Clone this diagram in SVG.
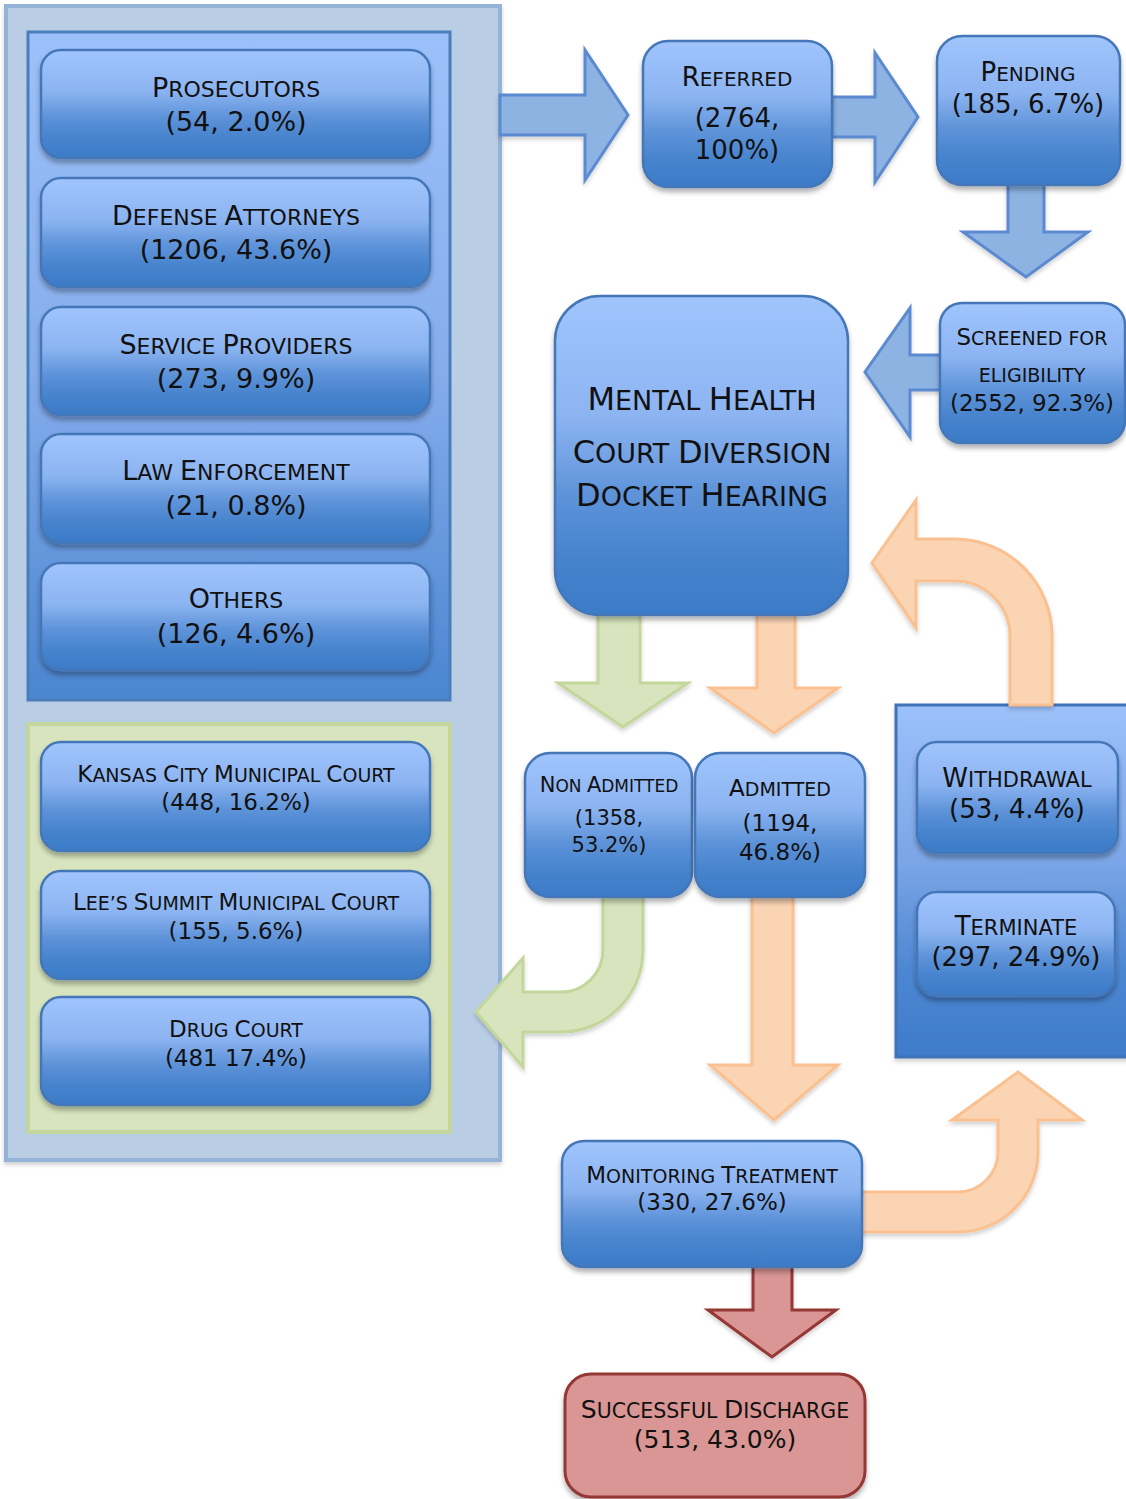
<svg xmlns="http://www.w3.org/2000/svg" width="1126" height="1499" viewBox="0 0 1126 1499">
<style>
.t{font-family:"DejaVu Sans","Liberation Sans",sans-serif;fill:#111;text-anchor:middle}
.f21{font-size:21px}.f23{font-size:23px}.f25{font-size:25px}.f26{font-size:26px}.f27{font-size:27px}.f32{font-size:32px}
.sc{text-transform:uppercase}
.s17{font-size:17px}.s19{font-size:19px}.s20{font-size:20px}.s205{font-size:20.5px}.s21{font-size:21px}.s22{font-size:22px}.s27{font-size:27px}
.box{fill:url(#gBox);stroke:#4477b8;stroke-width:2.5;filter:url(#sh)}
.ab{fill:#8db3e2;stroke:#5b8ad0;stroke-width:3;filter:url(#sh2)}
.ag{fill:#d7e4bd;stroke:#c3d69b;stroke-width:3;filter:url(#sh2)}
.ao{fill:#fbd4b4;stroke:#fac08f;stroke-width:3;filter:url(#sh2)}
.ar{fill:#d99694;stroke:#953735;stroke-width:3;filter:url(#sh2)}
</style>
<defs>
<linearGradient id="gBox" x1="0" y1="0" x2="0" y2="1">
<stop offset="0" stop-color="#a0c5fd"/>
<stop offset="0.38" stop-color="#8cb4f1"/>
<stop offset="0.62" stop-color="#5e93d9"/>
<stop offset="0.82" stop-color="#4683cd"/>
<stop offset="1" stop-color="#3c7bc7"/>
</linearGradient>
<linearGradient id="gCont" x1="0" y1="0" x2="0" y2="1">
<stop offset="0" stop-color="#9cc1fa"/>
<stop offset="0.5" stop-color="#86adec"/>
<stop offset="1" stop-color="#4a85d0"/>
</linearGradient>
<linearGradient id="gCont2" x1="0" y1="0" x2="0" y2="1">
<stop offset="0" stop-color="#9cc1fa"/>
<stop offset="0.45" stop-color="#7aa5e6"/>
<stop offset="0.75" stop-color="#4d87d2"/>
<stop offset="1" stop-color="#3e7bca"/>
</linearGradient>
<filter id="sh" x="-10%" y="-10%" width="120%" height="130%">
<feDropShadow dx="0" dy="4" stdDeviation="2.5" flood-color="#000" flood-opacity="0.3"/>
</filter>
<filter id="sh2" x="-10%" y="-10%" width="120%" height="130%">
<feDropShadow dx="0" dy="3" stdDeviation="2" flood-color="#000" flood-opacity="0.18"/>
</filter>
</defs>

<g id="container-outer">
<rect x="6" y="6" width="494" height="1154" fill="#b9cde5" stroke="#95b3d7" stroke-width="4" filter="url(#sh2)"/>
</g>
<g id="container-sources">
<rect x="28" y="32" width="422" height="668" fill="url(#gCont)" stroke="#4a7ebb" stroke-width="3"/>
</g>
<g id="container-courts">
<rect x="28" y="724" width="422" height="408" fill="#d7e4bd" stroke="#c3d69b" stroke-width="4"/>
</g>
<g id="container-exits">
<rect x="896" y="705" width="240" height="352" fill="url(#gCont2)" stroke="#3f72b5" stroke-width="3" filter="url(#sh2)"/>
</g>

<g id="connectors">
<path class="ab" d="M500,95 H585 V50 L628,115 L585,180 V135 H500 Z"/>
<path class="ab" d="M832,97 H875 V53 L918,117 L875,182 V137 H832 Z"/>
<path class="ab" d="M1008,183 V232 H963 L1026,277 L1088,232 H1044 V183 Z"/>
<path class="ab" d="M944,355 H910 V308 L865,372 L910,437 V390 H944 Z"/>
<path class="ag" d="M598,610 V683 H558 L623,727 L688,683 H640 V610 Z"/>
<path class="ao" d="M757,610 V688 H710 L774,733 L838,688 H795 V610 Z"/>
<path class="ao" d="M1052,705 V636 A97,97 0 0 0 955,539 H916 V500 L872,563 L916,628 V581 H955 A55,55 0 0 1 1010,636 V705 Z"/>
<path class="ag" d="M643,895 V950 A82,82 0 0 1 561,1032 H523 V1067 L476,1012 L523,958 V992 H561 A42,42 0 0 0 603,950 V895 Z"/>
<path class="ao" d="M752,895 V1065 H710 L774,1120 L838,1065 H793 V895 Z"/>
<path class="ao" d="M860,1192 H958 A40,40 0 0 0 998,1152 V1120 H952 L1018,1072 L1082,1120 H1038 V1152 A80,80 0 0 1 958,1232 H860 Z"/>
<path class="ar" d="M753,1265 V1310 H708 L772,1357 L836,1310 H792 V1265 Z"/>
</g>

<g id="prosecutors">
<rect class="box" x="41" y="50" width="389" height="108" rx="20"/>
<text class="t f27" x="236" y="97">P<tspan class="sc s22">rosecutors</tspan></text>
<text class="t f27" x="236" y="131">(54, 2.0%)</text>
</g>
<g id="defense-attorneys">
<rect class="box" x="41" y="178" width="389" height="109" rx="20"/>
<text class="t f27" x="236" y="225">D<tspan class="sc s22">efense </tspan>A<tspan class="sc s22">ttorneys</tspan></text>
<text class="t f27" x="236" y="259">(1206, 43.6%)</text>
</g>
<g id="service-providers">
<rect class="box" x="41" y="307" width="389" height="108" rx="20"/>
<text class="t f27" x="236" y="354">S<tspan class="sc s22">ervice </tspan>P<tspan class="sc s22">roviders</tspan></text>
<text class="t f27" x="236" y="388">(273, 9.9%)</text>
</g>
<g id="law-enforcement">
<rect class="box" x="41" y="434" width="389" height="109" rx="20"/>
<text class="t f27" x="236" y="480">L<tspan class="sc s22">aw </tspan>E<tspan class="sc s22">nforcement</tspan></text>
<text class="t f27" x="236" y="515">(21, 0.8%)</text>
</g>
<g id="others">
<rect class="box" x="41" y="563" width="389" height="107" rx="20"/>
<text class="t f27" x="236" y="608">O<tspan class="sc s22">thers</tspan></text>
<text class="t f27" x="236" y="643">(126, 4.6%)</text>
</g>

<g id="kansas-city">
<rect class="box" x="41" y="742" width="389" height="109" rx="20"/>
<text class="t f23" x="236" y="782">K<tspan class="sc s19">ansas </tspan>C<tspan class="sc s19">ity </tspan>M<tspan class="sc s19">unicipal </tspan>C<tspan class="sc s19">ourt</tspan></text>
<text class="t f23" x="236" y="810">(448, 16.2%)</text>
</g>
<g id="lees-summit">
<rect class="box" x="41" y="871" width="389" height="108" rx="20"/>
<text class="t f23" x="236" y="910">L<tspan class="sc s19">ee’s </tspan>S<tspan class="sc s19">ummit </tspan>M<tspan class="sc s19">unicipal </tspan>C<tspan class="sc s19">ourt</tspan></text>
<text class="t f23" x="236" y="939">(155, 5.6%)</text>
</g>
<g id="drug-court">
<rect class="box" x="41" y="997" width="389" height="108" rx="20"/>
<text class="t f23" x="236" y="1037">D<tspan class="sc s19">rug </tspan>C<tspan class="sc s19">ourt</tspan></text>
<text class="t f23" x="236" y="1066">(481 17.4%)</text>
</g>

<g id="referred">
<rect class="box" x="643" y="41" width="189" height="146" rx="25"/>
<text class="t f26" x="737" y="86">R<tspan class="sc s20">eferred</tspan></text>
<text class="t f26" x="737" y="127">(2764,</text>
<text class="t f26" x="737" y="159">100%)</text>
</g>
<g id="pending">
<rect class="box" x="937" y="36" width="183" height="149" rx="25"/>
<text class="t f26" x="1028" y="81">P<tspan class="sc s20">ending</tspan></text>
<text class="t f26" x="1028" y="113">(185, 6.7%)</text>
</g>
<g id="screened">
<rect class="box" x="940" y="303" width="185" height="140" rx="22"/>
<text class="t f23" x="1032" y="345">S<tspan class="sc s19">creened for</tspan></text>
<text class="t f23" x="1032" y="382"><tspan class="sc s19">eligibility</tspan></text>
<text class="t f23" x="1032" y="411">(2552, 92.3%)</text>
</g>
<g id="mental-health-court">
<rect class="box" x="555" y="296" width="293" height="319" rx="45"/>
<text class="t f32" x="702" y="410">M<tspan class="sc s27">ental </tspan>H<tspan class="sc s27">ealth</tspan></text>
<text class="t f32" x="702" y="463">C<tspan class="sc s27">ourt </tspan>D<tspan class="sc s27">iversion</tspan></text>
<text class="t f32" x="702" y="506">D<tspan class="sc s27">ocket </tspan>H<tspan class="sc s27">earing</tspan></text>
</g>
<g id="non-admitted">
<rect class="box" x="525" y="753" width="167" height="144" rx="25"/>
<text class="t f21" x="609" y="792">N<tspan class="sc s17">on </tspan>A<tspan class="sc s17">dmitted</tspan></text>
<text class="t f21" x="609" y="825">(1358,</text>
<text class="t f21" x="609" y="852">53.2%)</text>
</g>
<g id="admitted">
<rect class="box" x="695" y="753" width="170" height="144" rx="25"/>
<text class="t f23" x="780" y="796">A<tspan class="sc s19">dmitted</tspan></text>
<text class="t f23" x="780" y="831">(1194,</text>
<text class="t f23" x="780" y="860">46.8%)</text>
</g>
<g id="withdrawal">
<rect class="box" x="917" y="742" width="201" height="111" rx="20"/>
<text class="t f26" x="1017" y="787">W<tspan class="sc s21">ithdrawal</tspan></text>
<text class="t f26" x="1017" y="818">(53, 4.4%)</text>
</g>
<g id="terminate">
<rect class="box" x="917" y="892" width="198" height="104" rx="20"/>
<text class="t f26" x="1016" y="935">T<tspan class="sc s21">erminate</tspan></text>
<text class="t f26" x="1016" y="966">(297, 24.9%)</text>
</g>
<g id="monitoring-treatment">
<rect class="box" x="562" y="1141" width="300" height="126" rx="22"/>
<text class="t f23" x="712" y="1183">M<tspan class="sc s19">onitoring </tspan>T<tspan class="sc s19">reatment</tspan></text>
<text class="t f23" x="712" y="1210">(330, 27.6%)</text>
</g>
<g id="successful-discharge">
<rect x="565" y="1374" width="300" height="123" rx="26" fill="#d99694" stroke="#953735" stroke-width="3" filter="url(#sh)"/>
<text class="t f25" x="715" y="1418">S<tspan class="sc s205">uccessful </tspan>D<tspan class="sc s205">ischarge</tspan></text>
<text class="t f25" x="715" y="1448">(513, 43.0%)</text>
</g>
</svg>
